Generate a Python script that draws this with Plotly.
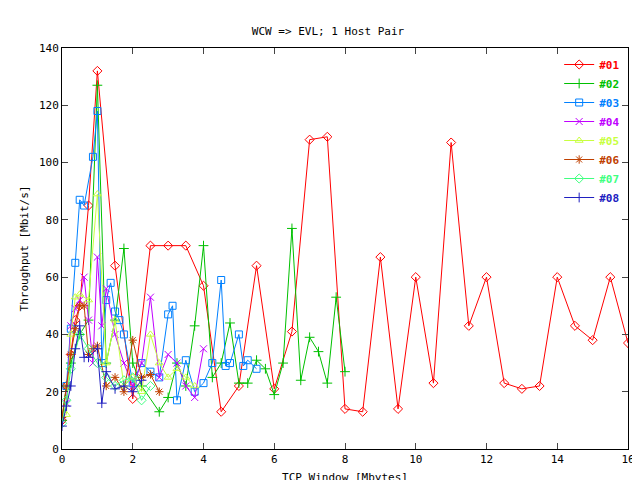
import plotly.graph_objects as go

names = ["#01", "#02", "#03", "#04", "#05", "#06", "#07", "#08"]
colors = ["#ff0000", "#00c000", "#0080ff", "#c000ff", "#c8ff40", "#c04000", "#40ff80", "#2020c0"]
symbols = ["diamond-open", "cross-thin-open", "square-open", "x-thin-open",
           "triangle-up-open", "asterisk-open", "diamond-open", "cross-thin-open"]

x01 = [0, 0.125, 0.25, 0.375, 0.5, 0.75, 1.0, 1.5, 2.0, 2.5, 3.0, 3.5, 4.0, 4.5, 5.0, 5.5, 6.0, 6.5,
       7.0, 7.5, 8.0, 8.5, 9.0, 9.5, 10.0, 10.5, 11.0, 11.5, 12.0, 12.5, 13.0, 13.5, 14.0, 14.5, 15.0, 15.5, 16.0]
y01 = [10, 22, 33, 45, 50, 85, 132, 64, 17.5, 71, 71, 71, 57, 13, 22, 64, 21, 41,
       108, 109, 14, 13, 67, 14, 60, 23, 107, 43, 60, 23, 21, 22, 60, 43, 38, 60, 37]
x02 = [0, 0.125, 0.25, 0.5, 0.75, 1.0, 1.25, 1.5, 1.75, 2.0, 2.25, 2.75, 3.0, 3.25, 3.5, 3.75, 4.0,
       4.25, 4.5, 4.75, 5.0, 5.25, 5.5, 5.75, 6.0, 6.25, 6.5, 6.75, 7.0, 7.25, 7.5, 7.75, 8.0]
y02 = [10, 22, 30, 40, 45, 127, 30, 45, 70, 30, 22, 13, 18, 30, 22, 43, 71,
       25, 30, 44, 23, 23, 31, 28, 19, 30, 77, 24, 39, 34, 23, 53, 27]
x03 = [0.125, 0.25, 0.375, 0.5, 0.625, 0.875, 1.0, 1.125, 1.25, 1.375, 1.5, 1.625, 1.75, 2.0, 2.25,
       2.5, 2.75, 3.0, 3.125, 3.25, 3.5, 3.75, 4.0, 4.25, 4.5, 4.625, 4.75, 5.0, 5.125, 5.25, 5.5]
y03 = [22, 42, 65, 87, 85, 102, 118, 30, 52, 58, 48, 45, 40, 23, 30,
       27, 25, 47, 50, 17, 31, 20, 23, 30, 59, 29, 30, 40, 29, 31, 28]
x04 = [0.125, 0.25, 0.375, 0.5, 0.625, 0.75, 0.875, 1.0, 1.125, 1.25, 1.5, 1.75, 2.0, 2.25, 2.5,
       2.75, 3.0, 3.25, 3.5, 3.75, 4.0]
y04 = [16, 43, 49, 52, 60, 45, 30, 67, 43, 56, 40, 30, 22, 30, 53, 25, 33, 30, 22, 18, 35]
x05 = [0.125, 0.25, 0.375, 0.5, 0.75, 1.0, 1.25, 1.5, 1.75, 2.0, 2.25, 2.5, 2.75, 3.0, 3.25, 3.5, 3.75]
y05 = [12, 40, 53, 54, 52, 89, 30, 45, 22, 25, 20, 40, 30, 25, 28, 25, 22]
x06 = [0, 0.125, 0.25, 0.375, 0.5, 0.625, 0.75, 0.875, 1.0, 1.25, 1.5, 1.75, 2.0, 2.25, 2.5, 2.75]
y06 = [11, 22, 33, 42, 50, 50, 33, 35, 36, 22, 25, 20, 38, 25, 26, 20]
x07 = [0, 0.125, 0.25, 0.5, 0.75, 1.0, 1.25, 1.5, 1.75, 2.0, 2.25, 2.5]
y07 = [9, 17, 28, 40, 35, 30, 25, 22, 24, 25, 17, 22]
x08 = [0, 0.125, 0.25, 0.375, 0.5, 0.625, 0.75, 1.0, 1.125, 1.25, 1.5, 1.75, 2.0, 2.25]
y08 = [8, 15, 22, 35, 43, 32, 32, 35, 16, 27, 21, 22, 20, 24]

xs = [x01, x02, x03, x04, x05, x06, x07, x08]
ys = [y01, y02, y03, y04, y05, y06, y07, y08]

font = "DejaVu Sans Mono"
fig = go.Figure()
for n, c, s, x, y in zip(names, colors, symbols, xs, ys):
    fig.add_trace(go.Scatter(
        x=x, y=y, mode="lines+markers",
        name=f"<span style='color:{c}'><b>{n}</b></span>",
        line=dict(color=c, width=1),
        marker=dict(symbol=s, size=7, color=c, line=dict(color=c, width=1)),
    ))

axis_common = dict(showgrid=False, zeroline=False, ticks="inside", ticklen=6,
                   showline=True, linecolor="black", linewidth=1, mirror="allticks",
                   automargin=False,
                   tickfont=dict(family=font, size=11, color="black"))
fig.update_layout(
    width=640, height=480,
    margin=dict(l=54, r=20, t=40, b=39, autoexpand=False),
    paper_bgcolor="white", plot_bgcolor="white",
    font=dict(family=font, size=11, color="black"),
    title=dict(text="WCW => EVL; 1 Host Pair", x=0.5, xanchor="center", y=0.96,
               font=dict(family=font, size=11)),
    xaxis=dict(range=[0, 16], dtick=2, title=dict(text="TCP Window [Mbytes]", standoff=8, font=dict(size=11)), **axis_common),
    yaxis=dict(range=[0, 140], dtick=20, title=dict(text="Throughput [Mbit/s]", standoff=8, font=dict(size=11)), **axis_common),
    legend=dict(x=0.995, y=0.995, xanchor="right", yanchor="top", bgcolor="rgba(0,0,0,0)",
                font=dict(family=font, size=11), tracegroupgap=0, itemwidth=30),
    showlegend=True,
)
fig.write_html("out.html")
